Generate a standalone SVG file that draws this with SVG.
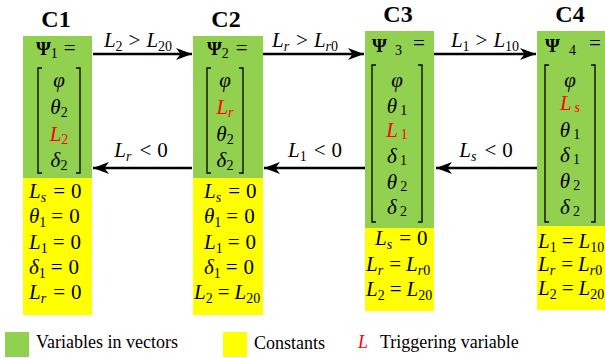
<svg xmlns="http://www.w3.org/2000/svg" width="605" height="358" viewBox="0 0 605 358" font-family="Liberation Serif, Times New Roman, serif">
<style>
.i{font-style:italic}
.s{font-size:14px}
.b{font-weight:bold}
.r{fill:#FF0000}
.t{font-weight:bold;font-size:24px;text-anchor:middle}
.c{text-anchor:middle}
.g{fill:#92D050}
.y{fill:#FFFF00}
.br{fill:none;stroke:#000;stroke-width:1.3}
.ln{stroke:#000;stroke-width:2.5;fill:none;marker-end:url(#ah)}
.lg{font-size:18px}
</style>
<defs>
<marker id="ah" markerUnits="userSpaceOnUse" markerWidth="17" markerHeight="13" refX="16" refY="6.5" orient="auto">
<path d="M0,0.5 L16,6.5 L0,12.5 L4.5,6.5 Z" fill="#000"/>
</marker>
</defs>

<g id="C1" font-size="21">
<text font-family="Liberation Serif, Times New Roman, serif" class="t" x="56" y="27">C1</text>
<rect class="g" x="23" y="36" width="69" height="142"/>
<rect class="y" x="23" y="178" width="69" height="137"/>
<text font-family="Liberation Serif, Times New Roman, serif" x="36" y="55"><tspan class="b" font-size="19">Ψ</tspan><tspan class="s" dy="3">1</tspan><tspan dy="-3" dx="6">=</tspan></text>
<path class="br" d="M42,68 H38 V173 H42 M76,68 H80 V173 H76"/>
<text font-family="Liberation Serif, Times New Roman, serif" class="c i" x="59" y="87">φ</text>
<text font-family="Liberation Serif, Times New Roman, serif" class="c" x="59" y="114"><tspan class="i">θ</tspan><tspan class="s" dy="3">2</tspan></text>
<text font-family="Liberation Serif, Times New Roman, serif" class="c r" x="59" y="141"><tspan class="i r">L</tspan><tspan class="s r" dy="3">2</tspan></text>
<text font-family="Liberation Serif, Times New Roman, serif" class="c" x="59" y="167"><tspan class="i">δ</tspan><tspan class="s" dy="3">2</tspan></text>
<text font-family="Liberation Serif, Times New Roman, serif" x="29" y="198"><tspan class="i">L</tspan><tspan class="s i" dy="4">s</tspan><tspan dy="-4" dx="7">=</tspan><tspan dx="6">0</tspan></text>
<text font-family="Liberation Serif, Times New Roman, serif" x="29" y="223"><tspan class="i">θ</tspan><tspan class="s" dy="4">1</tspan><tspan dy="-4" dx="5">=</tspan><tspan dx="6">0</tspan></text>
<text font-family="Liberation Serif, Times New Roman, serif" x="29" y="249"><tspan class="i">L</tspan><tspan class="s" dy="4">1</tspan><tspan dy="-4" dx="5">=</tspan><tspan dx="6">0</tspan></text>
<text font-family="Liberation Serif, Times New Roman, serif" x="29" y="274"><tspan class="i">δ</tspan><tspan class="s" dy="4">1</tspan><tspan dy="-4" dx="5">=</tspan><tspan dx="6">0</tspan></text>
<text font-family="Liberation Serif, Times New Roman, serif" x="29" y="299"><tspan class="i">L</tspan><tspan class="s i" dy="4">r</tspan><tspan dy="-4" dx="7">=</tspan><tspan dx="6">0</tspan></text>
</g>

<g id="C2" font-size="21">
<text font-family="Liberation Serif, Times New Roman, serif" class="t" x="226" y="27">C2</text>
<rect class="g" x="193" y="36" width="70" height="142"/>
<rect class="y" x="193" y="178" width="70" height="137"/>
<text font-family="Liberation Serif, Times New Roman, serif" x="207" y="55"><tspan class="b" font-size="19">Ψ</tspan><tspan class="s" dy="3">2</tspan><tspan dy="-3" dx="7">=</tspan></text>
<path class="br" d="M211,68 H207 V173 H211 M239,68 H243 V173 H239"/>
<text font-family="Liberation Serif, Times New Roman, serif" class="c i" x="225" y="87">φ</text>
<text font-family="Liberation Serif, Times New Roman, serif" class="c" x="225" y="114"><tspan class="i r">L</tspan><tspan class="s i r" dy="3">r</tspan></text>
<text font-family="Liberation Serif, Times New Roman, serif" class="c" x="225" y="141"><tspan class="i">θ</tspan><tspan class="s" dy="3">2</tspan></text>
<text font-family="Liberation Serif, Times New Roman, serif" class="c" x="225" y="167"><tspan class="i">δ</tspan><tspan class="s" dy="3">2</tspan></text>
<text font-family="Liberation Serif, Times New Roman, serif" x="204" y="198"><tspan class="i">L</tspan><tspan class="s i" dy="4">s</tspan><tspan dy="-4" dx="7">=</tspan><tspan dx="6">0</tspan></text>
<text font-family="Liberation Serif, Times New Roman, serif" x="204" y="223"><tspan class="i">θ</tspan><tspan class="s" dy="4">1</tspan><tspan dy="-4" dx="5">=</tspan><tspan dx="6">0</tspan></text>
<text font-family="Liberation Serif, Times New Roman, serif" x="204" y="249"><tspan class="i">L</tspan><tspan class="s" dy="4">1</tspan><tspan dy="-4" dx="5">=</tspan><tspan dx="6">0</tspan></text>
<text font-family="Liberation Serif, Times New Roman, serif" x="204" y="274"><tspan class="i">δ</tspan><tspan class="s" dy="4">1</tspan><tspan dy="-4" dx="5">=</tspan><tspan dx="6">0</tspan></text>
<text font-family="Liberation Serif, Times New Roman, serif" x="194" y="299"><tspan class="i">L</tspan><tspan class="s" dy="4">2</tspan><tspan dy="-4" dx="5">=</tspan><tspan class="i" dx="5">L</tspan><tspan class="s" dy="4">20</tspan></text>
</g>

<g id="C3" font-size="21">
<text font-family="Liberation Serif, Times New Roman, serif" class="t" x="398" y="22">C3</text>
<rect class="g" x="365" y="31" width="69" height="197"/>
<rect class="y" x="365" y="228" width="69" height="83"/>
<text font-family="Liberation Serif, Times New Roman, serif" x="372" y="52" class="b" font-size="19">Ψ</text>
<text font-family="Liberation Serif, Times New Roman, serif" x="395" y="55" class="s">3</text>
<text font-family="Liberation Serif, Times New Roman, serif" x="413" y="50">=</text>
<path class="br" d="M376,65 H372 V222 H376 M418,65 H422 V222 H418"/>
<text font-family="Liberation Serif, Times New Roman, serif" class="c i" x="397" y="87">φ</text>
<text font-family="Liberation Serif, Times New Roman, serif" class="c" x="397" y="113"><tspan class="i">θ</tspan><tspan class="s" dx="3" dy="2">1</tspan></text>
<text font-family="Liberation Serif, Times New Roman, serif" class="c" x="397" y="137"><tspan class="i r">L</tspan><tspan class="s r" dx="3" dy="2">1</tspan></text>
<text font-family="Liberation Serif, Times New Roman, serif" class="c" x="397" y="163"><tspan class="i">δ</tspan><tspan class="s" dx="3" dy="2">1</tspan></text>
<text font-family="Liberation Serif, Times New Roman, serif" class="c" x="397" y="189"><tspan class="i">θ</tspan><tspan class="s" dx="3" dy="2">2</tspan></text>
<text font-family="Liberation Serif, Times New Roman, serif" class="c" x="397" y="214"><tspan class="i">δ</tspan><tspan class="s" dx="3" dy="2">2</tspan></text>
<text font-family="Liberation Serif, Times New Roman, serif" x="375" y="245"><tspan class="i">L</tspan><tspan class="s i" dy="4">s</tspan><tspan dy="-4" dx="7">=</tspan><tspan dx="6">0</tspan></text>
<text font-family="Liberation Serif, Times New Roman, serif" x="366" y="271"><tspan class="i">L</tspan><tspan class="s i" dy="4">r</tspan><tspan dy="-4" dx="6">=</tspan><tspan class="i" dx="5">L</tspan><tspan class="s i" dy="4">r</tspan><tspan class="s">0</tspan></text>
<text font-family="Liberation Serif, Times New Roman, serif" x="366" y="296"><tspan class="i">L</tspan><tspan class="s" dy="4">2</tspan><tspan dy="-4" dx="5">=</tspan><tspan class="i" dx="5">L</tspan><tspan class="s" dy="4">20</tspan></text>
</g>

<g id="C4" font-size="21">
<text font-family="Liberation Serif, Times New Roman, serif" class="t" x="570" y="22">C4</text>
<rect class="g" x="537" y="31" width="68" height="195"/>
<rect class="y" x="537" y="226" width="68" height="84"/>
<text font-family="Liberation Serif, Times New Roman, serif" x="545" y="52" class="b" font-size="19">Ψ</text>
<text font-family="Liberation Serif, Times New Roman, serif" x="569" y="55" class="s">4</text>
<text font-family="Liberation Serif, Times New Roman, serif" x="589" y="50">=</text>
<path class="br" d="M549,65 H545 V222 H549 M591,65 H595 V222 H591"/>
<text font-family="Liberation Serif, Times New Roman, serif" class="c i" x="570" y="87">φ</text>
<text font-family="Liberation Serif, Times New Roman, serif" class="c" x="570" y="110"><tspan class="i r">L</tspan><tspan class="s i r" dx="3" dy="2">s</tspan></text>
<text font-family="Liberation Serif, Times New Roman, serif" class="c" x="570" y="137"><tspan class="i">θ</tspan><tspan class="s" dx="3" dy="2">1</tspan></text>
<text font-family="Liberation Serif, Times New Roman, serif" class="c" x="570" y="162"><tspan class="i">δ</tspan><tspan class="s" dx="3" dy="2">1</tspan></text>
<text font-family="Liberation Serif, Times New Roman, serif" class="c" x="570" y="188"><tspan class="i">θ</tspan><tspan class="s" dx="3" dy="2">2</tspan></text>
<text font-family="Liberation Serif, Times New Roman, serif" class="c" x="570" y="214"><tspan class="i">δ</tspan><tspan class="s" dx="3" dy="2">2</tspan></text>
<text font-family="Liberation Serif, Times New Roman, serif" x="538" y="248"><tspan class="i">L</tspan><tspan class="s" dy="4">1</tspan><tspan dy="-4" dx="5">=</tspan><tspan class="i" dx="5">L</tspan><tspan class="s" dy="4">10</tspan></text>
<text font-family="Liberation Serif, Times New Roman, serif" x="538" y="271"><tspan class="i">L</tspan><tspan class="s i" dy="4">r</tspan><tspan dy="-4" dx="6">=</tspan><tspan class="i" dx="5">L</tspan><tspan class="s i" dy="4">r</tspan><tspan class="s">0</tspan></text>
<text font-family="Liberation Serif, Times New Roman, serif" x="538" y="295"><tspan class="i">L</tspan><tspan class="s" dy="4">2</tspan><tspan dy="-4" dx="5">=</tspan><tspan class="i" dx="5">L</tspan><tspan class="s" dy="4">20</tspan></text>
</g>

<g id="connectors" font-size="21">
<path class="ln" d="M93,54 H192"/>
<path class="ln" d="M263,54 H364"/>
<path class="ln" d="M434,54 H536"/>
<path class="ln" d="M192,168 H93"/>
<path class="ln" d="M365,168 H264"/>
<path class="ln" d="M537,168 H436"/>
<text font-family="Liberation Serif, Times New Roman, serif" class="c" x="138" y="47"><tspan class="i">L</tspan><tspan class="s" dy="4">2</tspan><tspan dy="-4" dx="6">&gt;</tspan><tspan class="i" dx="6">L</tspan><tspan class="s" dy="4">20</tspan></text>
<text font-family="Liberation Serif, Times New Roman, serif" class="c" x="305" y="47"><tspan class="i">L</tspan><tspan class="s i" dy="4">r</tspan><tspan dy="-4" dx="7">&gt;</tspan><tspan class="i" dx="6">L</tspan><tspan class="s i" dy="4">r</tspan><tspan class="s">0</tspan></text>
<text font-family="Liberation Serif, Times New Roman, serif" class="c" x="485" y="47"><tspan class="i">L</tspan><tspan class="s" dy="4">1</tspan><tspan dy="-4" dx="6">&gt;</tspan><tspan class="i" dx="6">L</tspan><tspan class="s" dy="4">10</tspan></text>
<text font-family="Liberation Serif, Times New Roman, serif" class="c" x="141" y="157"><tspan class="i">L</tspan><tspan class="s i" dy="4">r</tspan><tspan dy="-4" dx="8">&lt;</tspan><tspan dx="6">0</tspan></text>
<text font-family="Liberation Serif, Times New Roman, serif" class="c" x="315" y="157"><tspan class="i">L</tspan><tspan class="s" dy="4">1</tspan><tspan dy="-4" dx="7">&lt;</tspan><tspan dx="6">0</tspan></text>
<text font-family="Liberation Serif, Times New Roman, serif" class="c" x="486" y="157"><tspan class="i">L</tspan><tspan class="s i" dy="4">s</tspan><tspan dy="-4" dx="8">&lt;</tspan><tspan dx="6">0</tspan></text>
</g>

<g id="legend">
<rect class="g" x="5" y="332" width="24" height="25"/>
<text font-family="Liberation Serif, Times New Roman, serif" class="lg" x="36" y="348">Variables in vectors</text>
<rect class="y" x="223" y="332" width="24" height="25"/>
<text font-family="Liberation Serif, Times New Roman, serif" class="lg" x="254" y="349">Constants</text>
<text font-family="Liberation Serif, Times New Roman, serif" class="lg i r" x="358" y="348">L</text>
<text font-family="Liberation Serif, Times New Roman, serif" class="lg" x="380" y="348">Triggering variable</text>
</g>
</svg>
